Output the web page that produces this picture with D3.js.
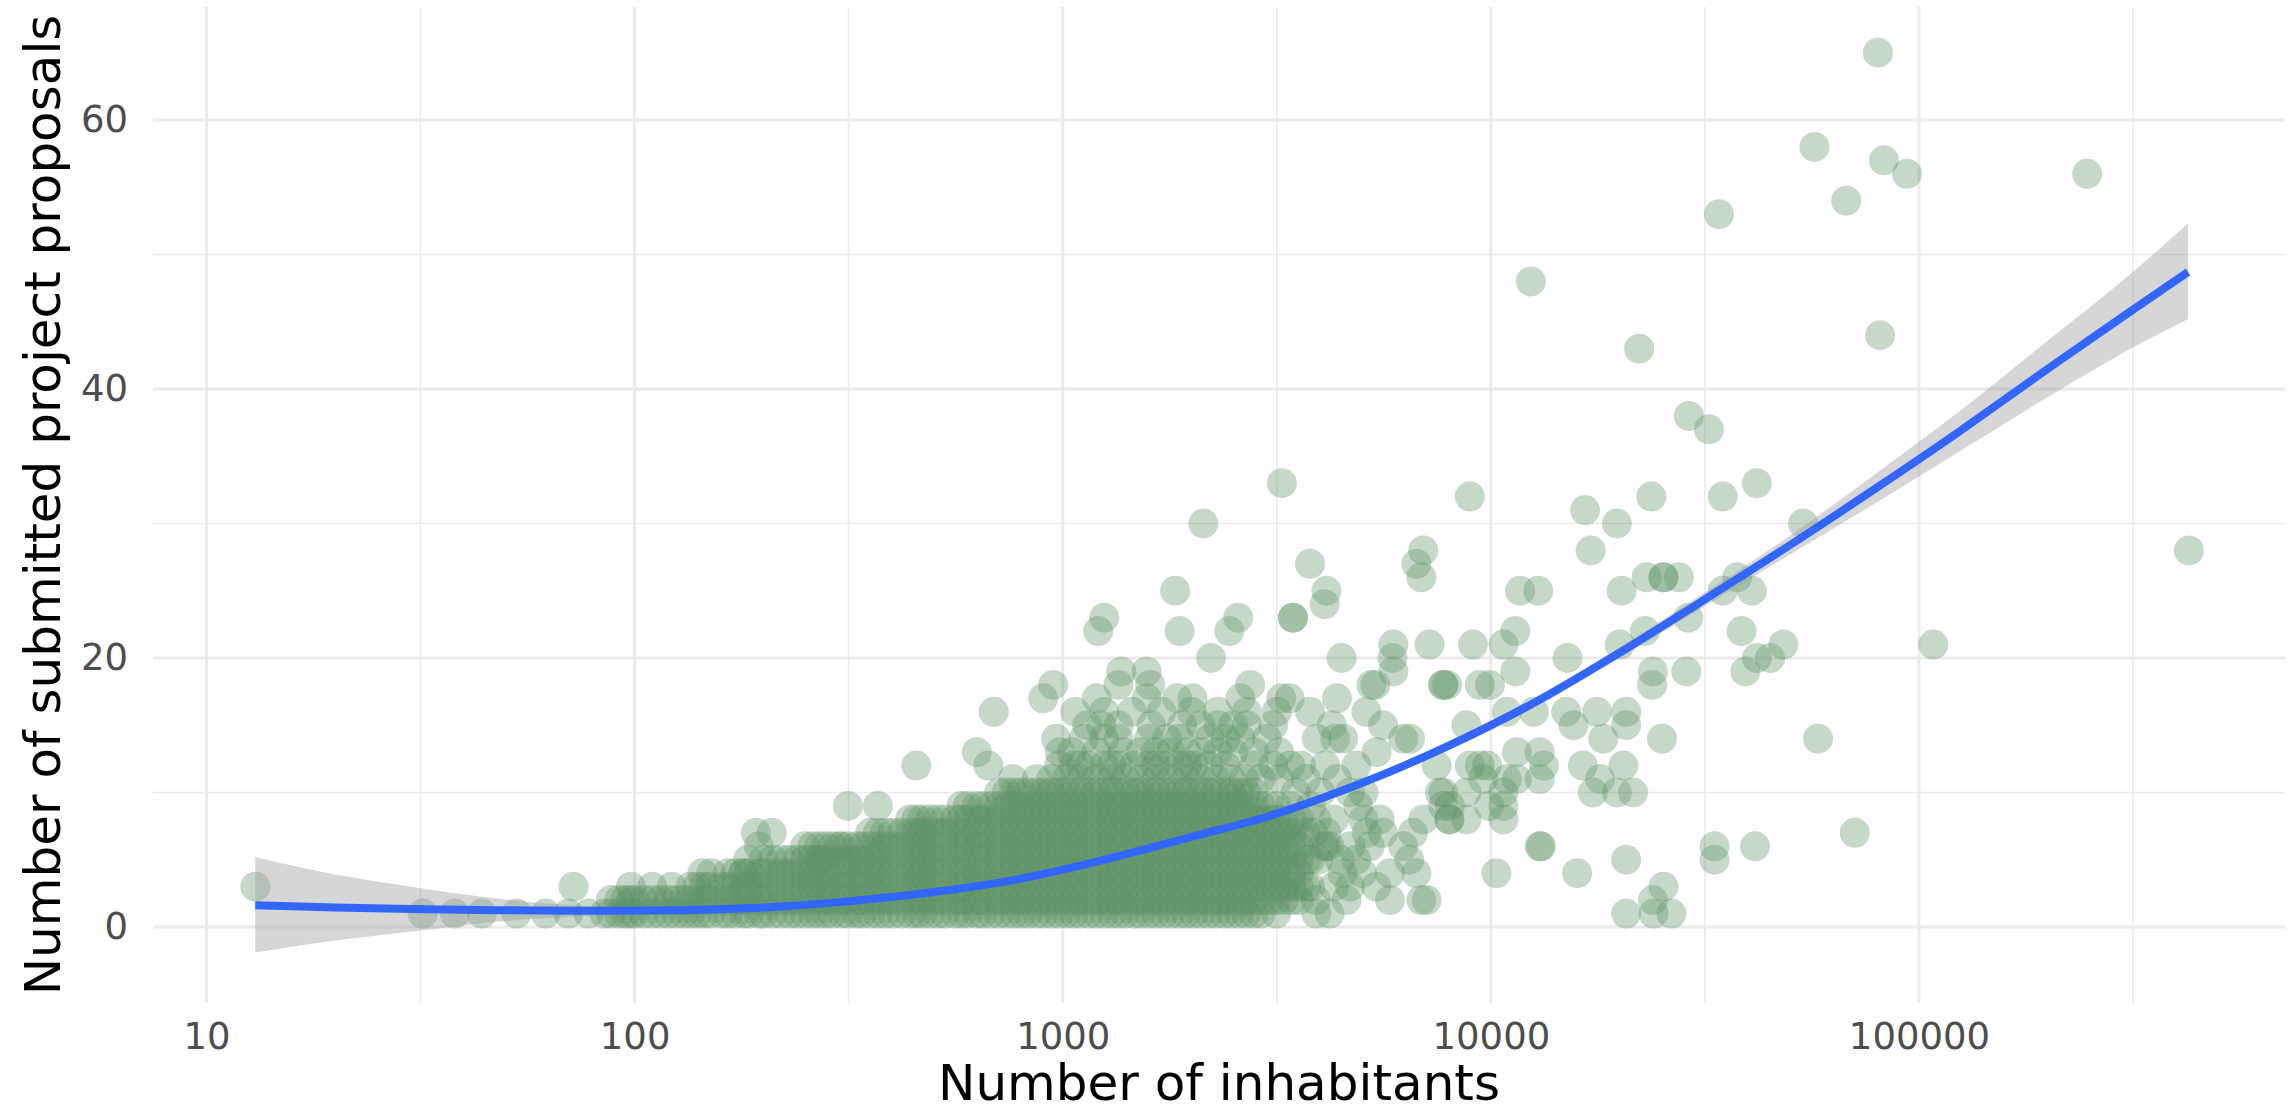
<!DOCTYPE html>
<html>
<head>
<meta charset="utf-8">
<script src="https://cdn.jsdelivr.net/npm/d3@7"></script>
<style>
  body { margin: 0; background: #ffffff; }
  svg { display: block; font-family: "DejaVu Sans", sans-serif; }
</style>
</head>
<body>
<svg id="chart"></svg>
<script>
// DATA
// axis ticks
var xTicks = [10, 100, 1000, 10000, 100000];
var xMinorTicks = [31.6, 316, 3162, 31623, 316228];
var yTicks = [0, 20, 40, 60];
var yMinorTicks = [10, 30, 50];

// dense core: [proposals, inhabitants of each municipality in that row]
var denseRows = [
  [1, [32,38,44,53,62,70,78,85,88,92,95,98,100,105,110,115,120,125,130,135,140,145,150,160,165,172,180,185,195,200,210,220,230,240,250,260,270,280,290,305,315,330,340,355,370,385,400,420,440,455,470,490,510,530,560,580,600,630,650,680,710,740,770,800,830,870,900,940,980,1020,1060,1100,1150,1200,1250,1300,1350,1400,1470,1520,1590,1650,1720,1790,1870,1940,2020,2100,2190,2280,2380,2470,2580,2680,2790,2900]],
  [2, [88,92,95,98,100,105,110,115,120,125,130,135,140,145,150,160,165,172,180,185,195,200,210,220,230,240,250,260,270,280,290,305,315,330,340,355,370,385,400,420,440,455,470,490,510,530,560,580,600,630,650,680,710,740,770,800,830,870,900,940,980,1020,1060,1100,1150,1200,1250,1300,1350,1400,1470,1520,1590,1650,1720,1790,1870,1940,2020,2100,2190,2280,2380,2470,2580,2680,2790,2900,3030,3150,3280,3420,3560]],
  [3, [13,72,98,110,122,135,140,145,150,160,165,172,180,185,195,200,210,220,230,240,250,260,270,280,290,305,315,330,340,355,370,385,400,420,440,455,470,490,510,530,560,580,600,630,650,680,710,740,770,800,830,870,900,940,980,1020,1060,1100,1150,1200,1250,1300,1350,1400,1470,1520,1590,1650,1720,1790,1870,1940,2020,2100,2190,2280,2380,2470,2580,2680,2790,2900,3030,3150,3280,3420,3560,3700]],
  [4, [144,165,172,180,185,195,200,210,220,230,240,250,260,270,280,290,305,315,330,340,355,370,385,400,420,440,455,470,490,510,530,560,580,600,630,650,680,710,740,770,800,830,870,900,940,980,1020,1060,1100,1150,1200,1250,1300,1350,1400,1470,1520,1590,1650,1720,1790,1870,1940,2020,2100,2190,2280,2380,2470,2580,2680,2790,2900,3030,3150,3280,3420,3560]],
  [5, [184,200,210,220,230,240,250,260,270,280,290,305,315,330,340,355,370,385,400,420,440,455,470,490,510,530,560,580,600,630,650,680,710,740,770,800,830,870,900,940,980,1020,1060,1100,1150,1200,1250,1300,1350,1400,1470,1520,1590,1650,1720,1790,1870,1940,2020,2100,2190,2280,2380,2470,2580,2680,2790,2900,3030,3150,3280,3420,3560,3700]],
  [6, [195,250,260,270,280,290,305,315,330,340,355,370,385,400,420,440,455,470,490,510,530,560,580,600,630,650,680,710,740,770,800,830,870,900,940,980,1020,1060,1100,1150,1200,1250,1300,1350,1400,1470,1520,1590,1650,1720,1790,1870,1940,2020,2100,2190,2280,2380,2470,2580,2680,2790,2900,3030,3150,3280,3420,3560]],
  [7, [192,209,355,370,385,400,420,440,455,470,490,510,530,560,580,600,630,650,680,710,740,770,800,830,870,900,940,980,1020,1060,1100,1150,1200,1250,1300,1350,1400,1470,1520,1590,1650,1720,1790,1870,1940,2020,2100,2190,2280,2380,2470,2580,2680,2790,2900,3030,3150,3280,3420,3560,3700]],
  [8, [440,455,470,490,510,530,560,580,600,630,650,680,710,740,770,800,830,870,900,940,980,1020,1060,1100,1150,1200,1250,1300,1350,1400,1470,1520,1590,1650,1720,1790,1870,1940,2020,2100,2190,2280,2380,2470,2580,2680,2790,2900,3030,3150,3280,3420,3560]],
  [9, [315,370,580,600,630,650,680,710,740,770,800,830,870,900,940,980,1020,1060,1100,1150,1200,1250,1300,1350,1400,1470,1520,1590,1650,1720,1790,1870,1940,2020,2100,2190,2280,2380,2470,2580,2680,2790,2900,3030,3150]],
  [10, [710,740,770,800,830,870,900,940,980,1020,1060,1100,1150,1200,1250,1300,1350,1400,1470,1520,1590,1650,1720,1790,1870,1940,2020,2100,2190,2280,2380,2470,2580,2680,2790]],
  [11, [765,870,940,1020,1100,1200,1300,1400,1520,1650,1790,1940,2100,2280,2470,2650,2900,3200]],
  [12, [455,670,980,1060,1100,1150,1250,1300,1350,1470,1590,1650,1720,1870,1950,2020,2190,2400,2800,3100,3400]]
];

// scattered municipalities: [inhabitants, proposals]
var scattered = [
  [80200,65],[57000,58],[82800,57],[93800,56],[247000,56],[67600,54],[34100,53],[12400,48],
  [81100,44],[22200,43],[29000,38],[32300,37],[41800,33],[3250,33],[23700,32],[34800,32],[8930,32],
  [16600,31],[2130,30],[19700,30],[53600,30],[6950,28],[17100,28],[427000,28],[3780,27],[6700,27],
  [6880,26],[23100,26],[25300,26],[25300,26],[27500,26],[37600,26],
  [1830,25],[4130,25],[11700,25],[12900,25],[20200,25],[34800,25],[40700,25],[4090,24],
  [1250,23],[2570,23],[3450,23],[3450,23],[28900,23],
  [1210,22],[1875,22],[2450,22],[11400,22],[22900,22],[38500,22],
  [5920,21],[7190,21],[9080,21],[10700,21],[20000,21],[48200,21],[108000,21],
  [2220,20],[4480,20],[5890,20],[15100,20],[41800,20],[44900,20],
  [1370,19],[1570,19],[5920,19],[11400,19],[23900,19],[28600,19],[39300,19],
  [950,18],[1350,18],[1600,18],[2740,18],[5260,18],[5370,18],[7740,18],[7740,18],[7900,18],[9420,18],[9950,18],[23800,18],
  [900,17],[1200,17],[1570,17],[1850,17],[2010,17],[2600,17],[3240,17],[3390,17],[4370,17],
  [690,16],[1070,16],[1250,16],[1450,16],[1700,16],[2000,16],[2300,16],[2690,16],[3160,16],[3780,16],[5120,16],[10900,16],[12600,16],[15000,16],[17700,16],[20700,16],
  [1140,15],[1230,15],[1350,15],[1610,15],[1900,15],[2100,15],[2310,15],[2500,15],[2690,15],[3100,15],[4250,15],[5600,15],[8770,15],[15600,15],[20700,15],
  [965,14],[1120,14],[1250,14],[1350,14],[1590,14],[1750,14],[1870,14],[2200,14],[2400,14],[2600,14],[3000,14],[3920,14],[4330,14],[4520,14],[6240,14],[6470,14],[18300,14],[25100,14],[58100,14],
  [630,13],[985,13],[1050,13],[1200,13],[1380,13],[1520,13],[1650,13],[1790,13],[1950,13],[2100,13],[2300,13],[2500,13],[2800,13],[3200,13],[5410,13],[11500,13],[13000,13],
  [3600,12],[4100,12],[4850,12],[7470,12],[8930,12],[9420,12],[9800,12],[13300,12],[16400,12],[20400,12],
  [3700,11],[4370,11],[9590,11],[10900,11],[11500,11],[13000,11],[18000,11],
  [3500,10],[4000,10],[4690,10],[5040,10],[7600,10],[7740,10],[8770,10],[10700,10],[17300,10],[19700,10],[21500,10],
  [3400,9],[3800,9],[4900,9],[7740,9],[8020,9],[9900,9],[10700,9],
  [3920,8],[4300,8],[5040,8],[5500,8],[6950,8],[8000,8],[8000,8],[8770,8],[10700,8],
  [3850,7],[4130,7],[5130,7],[5600,7],[6580,7],[70800,7],
  [300,6],[4060,6],[4130,6],[4200,6],[4700,6],[5210,6],[6240,6],[13000,6],[13100,6],[33300,6],[41400,6],
  [270,5],[3780,5],[3950,5],[4440,5],[4850,5],[6450,5],[20700,5],[33300,5],
  [151,4],[179,4],[4500,4],[5000,4],[5810,4],[6700,4],[10300,4],[15900,4],
  [3780,3],[4300,3],[4690,3],[5400,3],[25300,3],
  [3900,2],[4600,2],[5810,2],[6880,2],[7080,2],[23900,2],
  [3150,1],[3910,1],[4200,1],[20700,1],[24000,1],[26400,1]
];

// smoothed trend with its confidence band
var fitInhabitants = [13, 20, 30, 50, 80, 125, 200, 300, 500, 800, 1250, 2000, 3000, 5000, 8000, 12500, 20000, 30000, 50000, 80000, 125000, 200000, 300000, 425000];
var fitValue = [1.62, 1.45, 1.33, 1.24, 1.20, 1.25, 1.45, 1.85, 2.6, 3.6, 5.0, 6.7, 8.2, 10.7, 13.5, 16.6, 20.4, 23.9, 28.4, 32.7, 36.9, 41.5, 45.4, 48.7];
var fitLower = [-1.9, -1.0, -0.35, 0.45, 0.85, 1.05, 1.3, 1.72, 2.5, 3.47, 4.85, 6.55, 8.0, 10.45, 13.2, 16.25, 20.0, 23.4, 27.7, 31.6, 35.4, 39.4, 42.7, 45.2];
var fitUpper = [5.2, 3.9, 3.0, 2.05, 1.55, 1.45, 1.6, 1.98, 2.7, 3.73, 5.15, 6.85, 8.4, 10.95, 13.8, 16.95, 20.8, 24.4, 29.1, 33.8, 38.4, 43.6, 48.1, 52.3];

// NEEDED VARIABLES
var width = 2295;
var height = 1114;
var panel = {left: 153, right: 2285, top: 7, bottom: 1003};

var svg = d3.select("#chart")
  .attr("width", width)
  .attr("height", height)
  ;

// Scales
var xScale = d3.scaleLog()
  .domain([7.5, 716000])
  .range([panel.left, panel.right])
  ;
var yScale = d3.scaleLinear()
  .domain([-5.65, 68.4])
  .range([panel.bottom, panel.top])
  ;

// Gridlines (minor first, then major)
var grid = svg.append("g").attr("id", "grid");

grid.selectAll(".xminor")
  .data(xMinorTicks)
  .join("line")
  .attr("x1", d => xScale(d)).attr("x2", d => xScale(d))
  .attr("y1", panel.top).attr("y2", panel.bottom)
  .attr("stroke", "#ebebeb").attr("stroke-width", 1.6)
  ;
grid.selectAll(".yminor")
  .data(yMinorTicks)
  .join("line")
  .attr("x1", panel.left).attr("x2", panel.right)
  .attr("y1", d => yScale(d)).attr("y2", d => yScale(d))
  .attr("stroke", "#ebebeb").attr("stroke-width", 1.6)
  ;
grid.selectAll(".xmajor")
  .data(xTicks)
  .join("line")
  .attr("x1", d => xScale(d)).attr("x2", d => xScale(d))
  .attr("y1", panel.top).attr("y2", panel.bottom)
  .attr("stroke", "#ebebeb").attr("stroke-width", 3)
  ;
grid.selectAll(".ymajor")
  .data(yTicks)
  .join("line")
  .attr("x1", panel.left).attr("x2", panel.right)
  .attr("y1", d => yScale(d)).attr("y2", d => yScale(d))
  .attr("stroke", "#ebebeb").attr("stroke-width", 3)
  ;

// Points
var points = [];
denseRows.forEach(row => row[1].forEach(x => points.push([x, row[0]])));
scattered.forEach(p => points.push(p));

svg.append("g")
  .attr("id", "points")
  .selectAll("circle")
  .data(points)
  .join("circle")
  .attr("cx", d => xScale(d[0]))
  .attr("cy", d => yScale(d[1]))
  .attr("r", 15)
  .attr("fill", "#5c9164")
  .attr("fill-opacity", 0.35)
  ;

// Smooth: band and line
var fit = fitInhabitants.map((x, i) => ({x: x, y: fitValue[i], lo: fitLower[i], hi: fitUpper[i]}));

var band = d3.area()
  .x(d => xScale(d.x))
  .y0(d => yScale(d.lo))
  .y1(d => yScale(d.hi))
  .curve(d3.curveMonotoneX)
  ;
var trend = d3.line()
  .x(d => xScale(d.x))
  .y(d => yScale(d.y))
  .curve(d3.curveMonotoneX)
  ;

svg.append("path")
  .datum(fit)
  .attr("d", band)
  .attr("fill", "#999999")
  .attr("fill-opacity", 0.4)
  ;
svg.append("path")
  .datum(fit)
  .attr("d", trend)
  .attr("fill", "none")
  .attr("stroke", "#3366ff")
  .attr("stroke-width", 8)
  ;

// Axes
var xAxis = d3.axisBottom(xScale)
  .tickValues(xTicks)
  .tickFormat(d3.format("d"))
  .tickSize(0)
  .tickPadding(20)
  ;
var yAxis = d3.axisLeft(yScale)
  .tickValues(yTicks)
  .tickFormat(d3.format("d"))
  .tickSize(0)
  .tickPadding(25)
  ;

svg.append("g")
  .attr("transform", "translate(0," + panel.bottom + ")")
  .call(xAxis)
  .call(g => g.select(".domain").remove())
  .selectAll("text")
  .attr("font-family", "DejaVu Sans, sans-serif")
  .attr("font-size", 37)
  .attr("fill", "#4d4d4d")
  ;
svg.append("g")
  .attr("transform", "translate(" + panel.left + ",0)")
  .call(yAxis)
  .call(g => g.select(".domain").remove())
  .selectAll("text")
  .attr("font-family", "DejaVu Sans, sans-serif")
  .attr("font-size", 37)
  .attr("fill", "#4d4d4d")
  ;

// Axis titles
svg.append("text")
  .attr("x", (panel.left + panel.right) / 2)
  .attr("y", 1100)
  .attr("text-anchor", "middle")
  .attr("font-size", 50)
  .attr("fill", "#000000")
  .text("Number of inhabitants")
  ;
svg.append("text")
  .attr("transform", "translate(60," + (panel.top + panel.bottom) / 2 + ") rotate(-90)")
  .attr("text-anchor", "middle")
  .attr("font-size", 50)
  .attr("fill", "#000000")
  .text("Number of submitted project proposals")
  ;
</script>
</body>
</html>
